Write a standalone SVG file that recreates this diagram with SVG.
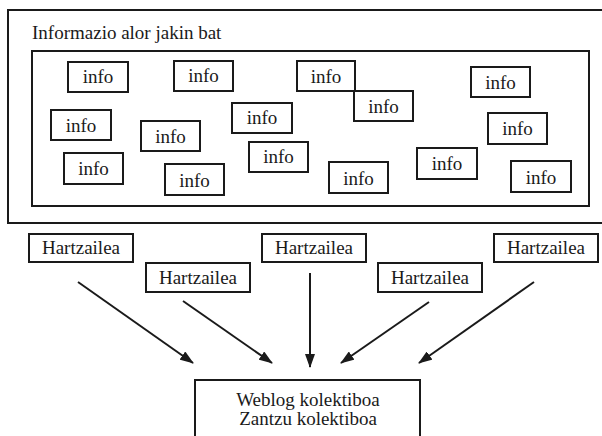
<svg xmlns="http://www.w3.org/2000/svg" width="602" height="436" viewBox="0 0 602 436">
  <style>
    .box { fill: #fff; stroke: #1a1a1a; stroke-width: 2; }
    .frame { fill: none; stroke: #1a1a1a; stroke-width: 2; }
    .lbl { font-family: "Liberation Serif", "Times New Roman", serif; font-size: 19px; fill: #1a1a1a; }
    .c { text-anchor: middle; }
    .edge { stroke: #1a1a1a; stroke-width: 2; fill: none; marker-end: url(#arrow); }
  </style>
  <defs>
    <marker id="arrow" markerWidth="14" markerHeight="10" refX="13" refY="5" orient="auto" markerUnits="userSpaceOnUse">
      <path d="M0,0 L14,5 L0,10 Z" fill="#1a1a1a"/>
    </marker>
  </defs>
  <rect width="602" height="436" fill="#fff"/>

  <!-- outer domain frame (runs off the right edge) -->
  <g id="domain">
    <path class="frame" d="M610,10 H8 V223 H610"/>
    <text class="lbl" x="32" y="39">Informazio alor jakin bat</text>
    <rect class="frame" x="32" y="51" width="557" height="155"/>
  </g>

  <!-- info items -->
  <g id="info1"><rect class="box" x="68" y="62" width="60" height="30"/><text class="lbl c" x="98" y="83">info</text></g>
  <g id="info2"><rect class="box" x="174" y="61" width="59" height="30"/><text class="lbl c" x="203.5" y="82">info</text></g>
  <g id="info3"><rect class="box" x="297" y="61" width="58" height="30"/><text class="lbl c" x="326" y="83">info</text></g>
  <g id="info4"><rect class="box" x="354" y="91" width="59" height="30"/><text class="lbl c" x="383.5" y="113">info</text></g>
  <g id="info5"><rect class="box" x="471" y="67" width="59" height="30"/><text class="lbl c" x="500.5" y="89">info</text></g>
  <g id="info6"><rect class="box" x="51" y="110" width="60" height="30"/><text class="lbl c" x="81" y="132">info</text></g>
  <g id="info7"><rect class="box" x="141" y="121" width="59" height="30"/><text class="lbl c" x="170.5" y="143">info</text></g>
  <g id="info8"><rect class="box" x="232" y="103" width="60" height="30"/><text class="lbl c" x="262" y="124">info</text></g>
  <g id="info9"><rect class="box" x="249" y="142" width="59" height="30"/><text class="lbl c" x="278.5" y="163">info</text></g>
  <g id="info10"><rect class="box" x="64" y="153" width="59" height="31"/><text class="lbl c" x="93.5" y="175">info</text></g>
  <g id="info11"><rect class="box" x="165" y="164" width="59" height="31"/><text class="lbl c" x="194.5" y="187">info</text></g>
  <g id="info12"><rect class="box" x="329" y="162" width="59" height="31"/><text class="lbl c" x="358.5" y="185">info</text></g>
  <g id="info13"><rect class="box" x="417" y="148" width="60" height="31"/><text class="lbl c" x="447" y="170">info</text></g>
  <g id="info14"><rect class="box" x="488" y="113" width="59" height="31"/><text class="lbl c" x="517.5" y="135">info</text></g>
  <g id="info15"><rect class="box" x="511" y="161" width="60" height="31"/><text class="lbl c" x="541" y="184">info</text></g>

  <!-- receivers -->
  <g id="hartzailea1"><rect class="box" x="29" y="234" width="104" height="28"/><text class="lbl c" x="81" y="254">Hartzailea</text></g>
  <g id="hartzailea2"><rect class="box" x="146" y="263" width="104" height="29"/><text class="lbl c" x="198" y="284">Hartzailea</text></g>
  <g id="hartzailea3"><rect class="box" x="262" y="234" width="104" height="28"/><text class="lbl c" x="314" y="254">Hartzailea</text></g>
  <g id="hartzailea4"><rect class="box" x="378" y="263" width="104" height="29"/><text class="lbl c" x="430" y="284">Hartzailea</text></g>
  <g id="hartzailea5"><rect class="box" x="494" y="234" width="104" height="28"/><text class="lbl c" x="546" y="254">Hartzailea</text></g>

  <!-- collective weblog -->
  <g id="weblog">
    <path class="frame" d="M195,440 V380 H420 V440"/>
    <text class="lbl c" x="308" y="406">Weblog kolektiboa</text>
    <text class="lbl c" x="308" y="425">Zantzu kolektiboa</text>
  </g>

  <!-- connectors -->
  <g id="edges">
    <line class="edge" x1="78" y1="282" x2="193" y2="363"/>
    <line class="edge" x1="183" y1="301" x2="272" y2="363"/>
    <line class="edge" x1="310" y1="273" x2="310" y2="367"/>
    <line class="edge" x1="429" y1="302" x2="341" y2="363"/>
    <line class="edge" x1="534" y1="282" x2="419" y2="363"/>
  </g>
</svg>
